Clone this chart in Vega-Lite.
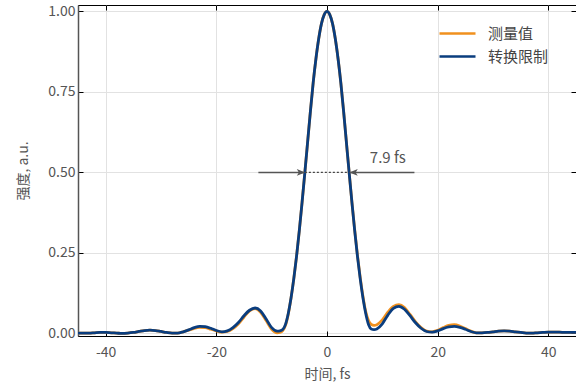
{
 "$schema": "https://vega.github.io/schema/vega-lite/v6.json",
 "width": 498, "height": 331,
 "autosize": {"type": "none"},
 "padding": {"left": 78, "top": 5, "right": 0, "bottom": 50},
 "config": {
  "font": "Noto Sans CJK SC",
  "view": {"stroke": "black", "strokeWidth": 1},
  "axis": {"labelFont": "Noto Sans CJK SC", "titleFont": "Noto Sans CJK SC", "labelColor": "#555", "titleColor": "#555", "labelFontSize": 14, "titleFontSize": 14, "titleFontWeight": "normal", "gridColor": "#e2e2e2", "tickColor": "black", "domainColor": "black"},
  "legend": {"labelFont": "Noto Sans CJK SC"}
 },
 "datasets": {
  "curves": [
   {"t":-45,"v":0.001,"s":"测量值"},{"t":-44,"v":0.001,"s":"测量值"},{"t":-43,"v":0.001,"s":"测量值"},{"t":-42,"v":0.002,"s":"测量值"},{"t":-41,"v":0.003,"s":"测量值"},{"t":-40,"v":0.003,"s":"测量值"},{"t":-39,"v":0.002,"s":"测量值"},{"t":-38,"v":0.001,"s":"测量值"},{"t":-37,"v":0.0,"s":"测量值"},{"t":-36,"v":0.001,"s":"测量值"},{"t":-35,"v":0.003,"s":"测量值"},{"t":-34,"v":0.006,"s":"测量值"},{"t":-33,"v":0.009,"s":"测量值"},{"t":-32,"v":0.01,"s":"测量值"},{"t":-31,"v":0.009,"s":"测量值"},{"t":-30,"v":0.006,"s":"测量值"},{"t":-29,"v":0.003,"s":"测量值"},{"t":-28,"v":0.001,"s":"测量值"},{"t":-27,"v":0.001,"s":"测量值"},{"t":-26,"v":0.005,"s":"测量值"},{"t":-25,"v":0.01,"s":"测量值"},{"t":-24,"v":0.016,"s":"测量值"},{"t":-23,"v":0.019,"s":"测量值"},{"t":-22,"v":0.018,"s":"测量值"},{"t":-21,"v":0.013,"s":"测量值"},{"t":-20,"v":0.008,"s":"测量值"},{"t":-19,"v":0.004,"s":"测量值"},{"t":-18,"v":0.006,"s":"测量值"},{"t":-17,"v":0.015,"s":"测量值"},{"t":-16,"v":0.03,"s":"测量值"},{"t":-15,"v":0.051,"s":"测量值"},{"t":-14,"v":0.07,"s":"测量值"},{"t":-13,"v":0.077,"s":"测量值"},{"t":-12,"v":0.066,"s":"测量值"},{"t":-11,"v":0.04,"s":"测量值"},{"t":-10,"v":0.013,"s":"测量值"},{"t":-9,"v":0.002,"s":"测量值"},{"t":-8.5,"v":0.003,"s":"测量值"},{"t":-8,"v":0.009,"s":"测量值"},{"t":-7.5,"v":0.025,"s":"测量值"},{"t":-7,"v":0.06,"s":"测量值"},{"t":-6.5,"v":0.11,"s":"测量值"},{"t":-6,"v":0.17,"s":"测量值"},{"t":-5.5,"v":0.24,"s":"测量值"},{"t":-5,"v":0.32,"s":"测量值"},{"t":-4.5,"v":0.408,"s":"测量值"},{"t":-4,"v":0.5,"s":"测量值"},{"t":-3.5,"v":0.595,"s":"测量值"},{"t":-3,"v":0.69,"s":"测量值"},{"t":-2.5,"v":0.778,"s":"测量值"},{"t":-2,"v":0.853,"s":"测量值"},{"t":-1.5,"v":0.915,"s":"测量值"},{"t":-1,"v":0.962,"s":"测量值"},{"t":-0.5,"v":0.99,"s":"测量值"},{"t":0,"v":1.0,"s":"测量值"},{"t":0.5,"v":0.99,"s":"测量值"},{"t":1,"v":0.962,"s":"测量值"},{"t":1.5,"v":0.915,"s":"测量值"},{"t":2,"v":0.853,"s":"测量值"},{"t":2.5,"v":0.778,"s":"测量值"},{"t":3,"v":0.69,"s":"测量值"},{"t":3.5,"v":0.595,"s":"测量值"},{"t":4,"v":0.5,"s":"测量值"},{"t":4.5,"v":0.408,"s":"测量值"},{"t":5,"v":0.322,"s":"测量值"},{"t":5.5,"v":0.243,"s":"测量值"},{"t":6,"v":0.174,"s":"测量值"},{"t":6.5,"v":0.115,"s":"测量值"},{"t":7,"v":0.068,"s":"测量值"},{"t":7.5,"v":0.04,"s":"测量值"},{"t":8,"v":0.028,"s":"测量值"},{"t":8.5,"v":0.025,"s":"测量值"},{"t":9,"v":0.027,"s":"测量值"},{"t":10,"v":0.042,"s":"测量值"},{"t":11,"v":0.066,"s":"测量值"},{"t":12,"v":0.084,"s":"测量值"},{"t":13,"v":0.089,"s":"测量值"},{"t":14,"v":0.08,"s":"测量值"},{"t":15,"v":0.059,"s":"测量值"},{"t":16,"v":0.036,"s":"测量值"},{"t":17,"v":0.018,"s":"测量值"},{"t":18,"v":0.007,"s":"测量值"},{"t":19,"v":0.005,"s":"测量值"},{"t":20,"v":0.01,"s":"测量值"},{"t":21,"v":0.018,"s":"测量值"},{"t":22,"v":0.025,"s":"测量值"},{"t":23,"v":0.027,"s":"测量值"},{"t":24,"v":0.023,"s":"测量值"},{"t":25,"v":0.015,"s":"测量值"},{"t":26,"v":0.007,"s":"测量值"},{"t":27,"v":0.002,"s":"测量值"},{"t":28,"v":0.002,"s":"测量值"},{"t":29,"v":0.003,"s":"测量值"},{"t":30,"v":0.005,"s":"测量值"},{"t":31,"v":0.007,"s":"测量值"},{"t":32,"v":0.008,"s":"测量值"},{"t":33,"v":0.007,"s":"测量值"},{"t":34,"v":0.005,"s":"测量值"},{"t":35,"v":0.003,"s":"测量值"},{"t":36,"v":0.001,"s":"测量值"},{"t":37,"v":0.001,"s":"测量值"},{"t":38,"v":0.002,"s":"测量值"},{"t":39,"v":0.003,"s":"测量值"},{"t":40,"v":0.004,"s":"测量值"},{"t":41,"v":0.004,"s":"测量值"},{"t":42,"v":0.004,"s":"测量值"},{"t":43,"v":0.003,"s":"测量值"},{"t":44,"v":0.003,"s":"测量值"},{"t":45,"v":0.003,"s":"测量值"},
   {"t":-45,"v":0.001,"s":"转换限制"},{"t":-44,"v":0.001,"s":"转换限制"},{"t":-43,"v":0.001,"s":"转换限制"},{"t":-42,"v":0.002,"s":"转换限制"},{"t":-41,"v":0.003,"s":"转换限制"},{"t":-40,"v":0.003,"s":"转换限制"},{"t":-39,"v":0.002,"s":"转换限制"},{"t":-38,"v":0.001,"s":"转换限制"},{"t":-37,"v":0.0,"s":"转换限制"},{"t":-36,"v":0.001,"s":"转换限制"},{"t":-35,"v":0.003,"s":"转换限制"},{"t":-34,"v":0.006,"s":"转换限制"},{"t":-33,"v":0.009,"s":"转换限制"},{"t":-32,"v":0.01,"s":"转换限制"},{"t":-31,"v":0.009,"s":"转换限制"},{"t":-30,"v":0.006,"s":"转换限制"},{"t":-29,"v":0.003,"s":"转换限制"},{"t":-28,"v":0.001,"s":"转换限制"},{"t":-27,"v":0.001,"s":"转换限制"},{"t":-26,"v":0.005,"s":"转换限制"},{"t":-25,"v":0.011,"s":"转换限制"},{"t":-24,"v":0.018,"s":"转换限制"},{"t":-23,"v":0.022,"s":"转换限制"},{"t":-22,"v":0.021,"s":"转换限制"},{"t":-21,"v":0.016,"s":"转换限制"},{"t":-20,"v":0.009,"s":"转换限制"},{"t":-19,"v":0.005,"s":"转换限制"},{"t":-18,"v":0.008,"s":"转换限制"},{"t":-17,"v":0.018,"s":"转换限制"},{"t":-16,"v":0.034,"s":"转换限制"},{"t":-15,"v":0.055,"s":"转换限制"},{"t":-14,"v":0.072,"s":"转换限制"},{"t":-13,"v":0.079,"s":"转换限制"},{"t":-12,"v":0.07,"s":"转换限制"},{"t":-11,"v":0.045,"s":"转换限制"},{"t":-10,"v":0.018,"s":"转换限制"},{"t":-9,"v":0.007,"s":"转换限制"},{"t":-8.5,"v":0.008,"s":"转换限制"},{"t":-8,"v":0.012,"s":"转换限制"},{"t":-7.5,"v":0.028,"s":"转换限制"},{"t":-7,"v":0.062,"s":"转换限制"},{"t":-6.5,"v":0.11,"s":"转换限制"},{"t":-6,"v":0.17,"s":"转换限制"},{"t":-5.5,"v":0.24,"s":"转换限制"},{"t":-5,"v":0.32,"s":"转换限制"},{"t":-4.5,"v":0.408,"s":"转换限制"},{"t":-4,"v":0.5,"s":"转换限制"},{"t":-3.5,"v":0.595,"s":"转换限制"},{"t":-3,"v":0.69,"s":"转换限制"},{"t":-2.5,"v":0.778,"s":"转换限制"},{"t":-2,"v":0.853,"s":"转换限制"},{"t":-1.5,"v":0.915,"s":"转换限制"},{"t":-1,"v":0.962,"s":"转换限制"},{"t":-0.5,"v":0.99,"s":"转换限制"},{"t":0,"v":1.0,"s":"转换限制"},{"t":0.5,"v":0.99,"s":"转换限制"},{"t":1,"v":0.962,"s":"转换限制"},{"t":1.5,"v":0.915,"s":"转换限制"},{"t":2,"v":0.853,"s":"转换限制"},{"t":2.5,"v":0.778,"s":"转换限制"},{"t":3,"v":0.69,"s":"转换限制"},{"t":3.5,"v":0.595,"s":"转换限制"},{"t":4,"v":0.5,"s":"转换限制"},{"t":4.5,"v":0.408,"s":"转换限制"},{"t":5,"v":0.32,"s":"转换限制"},{"t":5.5,"v":0.24,"s":"转换限制"},{"t":6,"v":0.17,"s":"转换限制"},{"t":6.5,"v":0.11,"s":"转换限制"},{"t":7,"v":0.062,"s":"转换限制"},{"t":7.5,"v":0.028,"s":"转换限制"},{"t":8,"v":0.014,"s":"转换限制"},{"t":8.5,"v":0.012,"s":"转换限制"},{"t":9,"v":0.014,"s":"转换限制"},{"t":10,"v":0.03,"s":"转换限制"},{"t":11,"v":0.057,"s":"转换限制"},{"t":12,"v":0.078,"s":"转换限制"},{"t":13,"v":0.084,"s":"转换限制"},{"t":14,"v":0.075,"s":"转换限制"},{"t":15,"v":0.055,"s":"转换限制"},{"t":16,"v":0.033,"s":"转换限制"},{"t":17,"v":0.016,"s":"转换限制"},{"t":18,"v":0.006,"s":"转换限制"},{"t":19,"v":0.004,"s":"转换限制"},{"t":20,"v":0.008,"s":"转换限制"},{"t":21,"v":0.015,"s":"转换限制"},{"t":22,"v":0.02,"s":"转换限制"},{"t":23,"v":0.022,"s":"转换限制"},{"t":24,"v":0.019,"s":"转换限制"},{"t":25,"v":0.013,"s":"转换限制"},{"t":26,"v":0.006,"s":"转换限制"},{"t":27,"v":0.002,"s":"转换限制"},{"t":28,"v":0.002,"s":"转换限制"},{"t":29,"v":0.003,"s":"转换限制"},{"t":30,"v":0.005,"s":"转换限制"},{"t":31,"v":0.007,"s":"转换限制"},{"t":32,"v":0.008,"s":"转换限制"},{"t":33,"v":0.007,"s":"转换限制"},{"t":34,"v":0.005,"s":"转换限制"},{"t":35,"v":0.003,"s":"转换限制"},{"t":36,"v":0.001,"s":"转换限制"},{"t":37,"v":0.001,"s":"转换限制"},{"t":38,"v":0.002,"s":"转换限制"},{"t":39,"v":0.003,"s":"转换限制"},{"t":40,"v":0.004,"s":"转换限制"},{"t":41,"v":0.004,"s":"转换限制"},{"t":42,"v":0.004,"s":"转换限制"},{"t":43,"v":0.003,"s":"转换限制"},{"t":44,"v":0.003,"s":"转换限制"},{"t":45,"v":0.003,"s":"转换限制"}
  ],
  "arrows": [
   {"t": -12.4, "t2": -4.3, "v": 0.5},
   {"t": 4.3, "t2": 15.8, "v": 0.5}
  ],
  "dashed": [
   {"t": -4.0, "t2": 4.1, "v": 0.5}
  ],
  "heads": [
   {"t": -4.7, "v": 0.5, "dir": "right"},
   {"t": 4.8, "v": 0.5, "dir": "left"}
  ],
  "label": [
   {"t": 11.0, "v": 0.546, "text": "7.9 fs"}
  ]
 },
 "resolve": {"axis": {"x": "independent", "y": "independent"}},
 "layer": [
  {
   "data": {"name": "curves"},
   "mark": {"type": "line", "interpolate": "monotone", "strokeWidth": 2.8, "clip": true},
   "encoding": {
    "x": {"field": "t", "type": "quantitative", "scale": {"domain": [-45, 45], "nice": false, "zero": false},
     "axis": {"title": "时间, fs", "values": [-40, -20, 0, 20, 40], "labelExpr": "'' + datum.value", "tickSize": -5, "labelPadding": 14, "titlePadding": 8, "grid": true, "domainWidth": 1.2}},
    "y": {"field": "v", "type": "quantitative", "scale": {"domain": [-0.008, 1.02], "nice": false, "zero": false},
     "axis": {"title": "强度, a.u.", "values": [0, 0.25, 0.5, 0.75, 1], "format": ".2f", "tickSize": -5, "labelPadding": 8, "titlePadding": 17, "grid": true, "domainColor": "#555", "domainWidth": 1.5}},
    "color": {"field": "s", "type": "nominal", "sort": ["测量值", "转换限制"],
     "scale": {"domain": ["测量值", "转换限制"], "range": ["#f0901e", "#0a3d7e"]},
     "legend": {"title": null, "orient": "none", "legendX": 369, "legendY": 18, "symbolType": "M-2,0H2", "symbolSize": 324, "symbolStrokeWidth": 2.5, "labelFontSize": 15, "labelColor": "#444", "labelOffset": 20, "rowPadding": 4}}
   }
  },
  {
   "data": {"name": "curves"},
   "mark": {"type": "point", "opacity": 0},
   "encoding": {
    "x": {"field": "t", "type": "quantitative", "axis": {"orient": "top", "title": null, "labels": false, "domain": false, "grid": false, "values": [-40, -20, 0, 20, 40], "tickSize": -5}},
    "y": {"field": "v", "type": "quantitative", "axis": {"orient": "right", "title": null, "labels": false, "domain": false, "grid": false, "values": [0, 0.25, 0.5, 0.75, 1], "tickSize": -5}}
   }
  },
  {
   "data": {"name": "arrows"},
   "mark": {"type": "rule", "color": "#555", "strokeWidth": 1.5},
   "encoding": {
    "x": {"field": "t", "type": "quantitative", "axis": null},
    "x2": {"field": "t2"},
    "y": {"field": "v", "type": "quantitative", "axis": null}
   }
  },
  {
   "data": {"name": "dashed"},
   "mark": {"type": "rule", "color": "#444", "strokeWidth": 1.3, "strokeDash": [2, 2]},
   "encoding": {
    "x": {"field": "t", "type": "quantitative", "axis": null},
    "x2": {"field": "t2"},
    "y": {"field": "v", "type": "quantitative", "axis": null}
   }
  },
  {
   "data": {"name": "heads"},
   "mark": {"type": "point", "filled": true, "color": "#555", "opacity": 1, "size": 70},
   "encoding": {
    "x": {"field": "t", "type": "quantitative", "axis": null},
    "y": {"field": "v", "type": "quantitative", "axis": null},
    "shape": {"field": "dir", "type": "nominal", "scale": {"domain": ["right", "left"], "range": ["M-1,-0.8L1,0L-1,0.8L-0.5,0Z", "M1,-0.8L-1,0L1,0.8L0.5,0Z"]}, "legend": null}
   }
  },
  {
   "data": {"name": "label"},
   "mark": {"type": "text", "fontSize": 15, "color": "#555", "font": "Noto Sans CJK SC"},
   "encoding": {
    "x": {"field": "t", "type": "quantitative", "axis": null},
    "y": {"field": "v", "type": "quantitative", "axis": null},
    "text": {"field": "text"}
   }
  }
 ]
}
